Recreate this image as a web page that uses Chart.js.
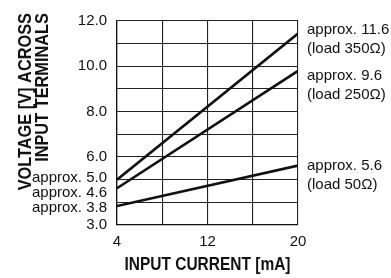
<!DOCTYPE html>
<html>
<head>
<meta charset="utf-8">
<script src="https://cdn.jsdelivr.net/npm/chart.js@4"></script>
<style>
  html, body { margin: 0; padding: 0; background: #fff; }
  #wrap { width: 391px; height: 278px; }
</style>
</head>
<body>
<div id="wrap"><canvas id="voltChart" width="391" height="278"></canvas></div>
<script>
// input current [mA] at the two ends of each line
const current = [4, 20];

// voltage [V] across input terminals
const load350 = [5.0, 11.45];
const load250 = [4.62, 9.8];
const load50 = [3.84, 5.62];

const yTickLabels = [3, 6, 8, 10, 12];
const xTickLabels = [4, 12, 20];

const leftNotes = [
    { text: "approx. 5.0", v: 5.1 },
    { text: "approx. 4.6", v: 4.42 },
    { text: "approx. 3.8", v: 3.75 }
];

const rightNotes = [
    { text: "approx. 11.6", sub: "(load 350\u03A9)", v: 11.6 },
    { text: "approx. 9.6", sub: "(load 250\u03A9)", v: 9.6 },
    { text: "approx. 5.6", sub: "(load 50\u03A9)", v: 5.6 }
];

const sans = "'Liberation Sans', Arial, sans-serif";
const textFont = "15px " + sans;

function toPoints(ys) {
    return current.map((x, i) => ({ x: x, y: ys[i] }));
}

function lineSet(label, ys) {
    return {
        label: label,
        data: toPoints(ys),
        borderColor: "#111",
        borderWidth: 2.6,
        pointRadius: 0,
        fill: false
    };
}

// narrow bold caption: squeeze along the text direction
function narrowText(ctx, text, x, y, squeeze) {
    ctx.save();
    ctx.translate(x, y);
    ctx.scale(squeeze, 1);
    ctx.fillText(text, 0, 0);
    ctx.restore();
}

// labels beside the plot and the axis titles
const notesPlugin = {
    id: "notes",
    afterDraw(chart) {
        const ctx = chart.ctx;
        const y = chart.scales.y;
        const area = chart.chartArea;

        ctx.save();
        ctx.fillStyle = "#111";
        ctx.font = textFont;
        ctx.textBaseline = "middle";

        ctx.textAlign = "right";
        leftNotes.forEach(n => {
            ctx.fillText(n.text, area.left - 10, y.getPixelForValue(n.v));
        });

        ctx.textAlign = "left";
        rightNotes.forEach(n => {
            const py = y.getPixelForValue(n.v);
            ctx.fillText(n.text, area.right + 9, py);
            ctx.fillText(n.sub, area.right + 9, py + 19);
        });

        // x axis title
        ctx.font = "bold 18px " + sans;
        ctx.textAlign = "center";
        narrowText(ctx, "INPUT CURRENT [mA]", (area.left + area.right) / 2, 265, 0.86);

        // y axis title, two lines, top aligned
        ctx.font = "bold 19px " + sans;
        ctx.translate(0, 13);
        ctx.rotate(-Math.PI / 2);
        ctx.textAlign = "right";
        ctx.textBaseline = "alphabetic";
        narrowText(ctx, "VOLTAGE [V] ACROSS", 0, 31, 0.86);
        narrowText(ctx, "INPUT TERMINALS", 0, 48, 0.86);
        ctx.restore();
    }
};

const chart = new Chart(document.getElementById("voltChart").getContext("2d"), {
    type: "line",
    data: {
        datasets: [
            lineSet("load 350\u03A9", load350),
            lineSet("load 250\u03A9", load250),
            lineSet("load 50\u03A9", load50)
        ]
    },
    options: {
        responsive: false,
        animation: false,
        layout: { padding: { left: 0, right: 93, top: 21, bottom: 0 } },
        plugins: {
            legend: { display: false },
            tooltip: { enabled: false }
        },
        scales: {
            x: {
                type: "linear",
                min: 4,
                max: 20,
                afterFit(scale) { scale.height = 53; },
                ticks: {
                    stepSize: 4,
                    padding: 8,
                    color: "#111",
                    font: { family: sans, size: 15 },
                    maxRotation: 0,
                    callback: v => xTickLabels.includes(v) ? String(v) : ""
                },
                grid: { color: "#222", lineWidth: 1.1, drawTicks: false },
                border: { color: "#111", width: 1.3 }
            },
            y: {
                min: 3,
                max: 12,
                afterFit(scale) { scale.width = 117; },
                ticks: {
                    stepSize: 1,
                    padding: 10,
                    color: "#111",
                    font: { family: sans, size: 15 },
                    callback: v => yTickLabels.includes(v) ? v.toFixed(1) : ""
                },
                grid: { color: "#222", lineWidth: 1.1, drawTicks: false },
                border: { color: "#111", width: 1.3 }
            }
        }
    },
    plugins: [notesPlugin]
});
</script>
</body>
</html>
